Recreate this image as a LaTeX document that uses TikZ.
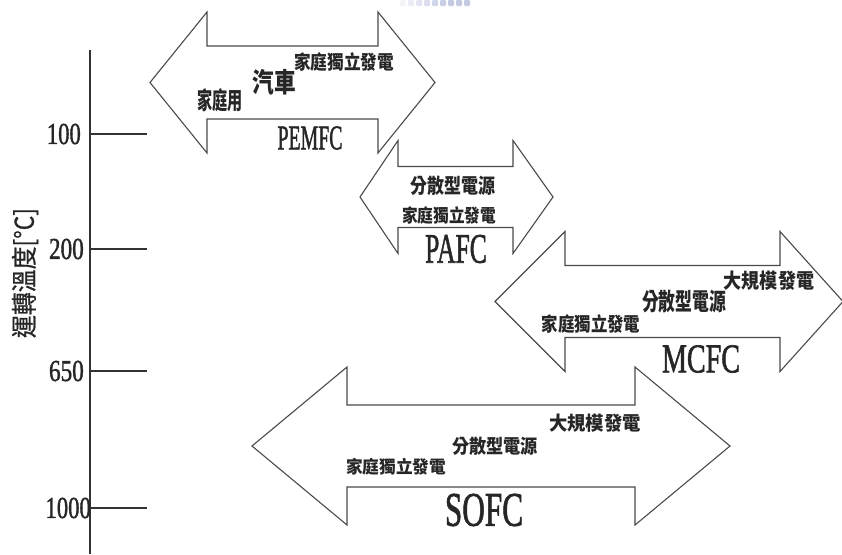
\documentclass[tikz,border=0pt]{standalone}
\usepackage{fontspec}
\usepackage{graphicx}
\setmainfont{Liberation Serif}
\newfontfamily\latf{Liberation Serif}[FakeBold=1.6]
\newfontfamily\cjk{Noto Sans CJK TC}
\newfontfamily\cjkm{Noto Sans CJK TC}[FakeBold=0.8]
\definecolor{arrgray}{HTML}{4A4A4A}
\definecolor{axisgray}{HTML}{333333}
\definecolor{logoblue}{HTML}{8C96C8}
\newcommand\cjt[3]{\fontsize{#1}{#1}\selectfont\scalebox{#2}[1]{#3}}
\newcommand\ltt[3]{\fontsize{#1}{#1}\selectfont\scalebox{#2}[1.05]{#3}}
\newcommand\dblarrow[7]{%
  \draw[arrshape] (#1,#2) -- (#3,#2-#6) -- (#3,#2-#7) -- (#4,#2-#7) -- (#4,#2-#6)
    -- (#5,#2) -- (#4,#2+#6) -- (#4,#2+#7) -- (#3,#2+#7) -- (#3,#2+#6) -- cycle;}
\tikzset{
  arrshape/.style={draw=arrgray, fill=white, line width=1.1pt, line join=miter},
  cjlab/.style={font=\cjk\bfseries, inner sep=0pt, text=black!85},
  latlab/.style={font=\latf, inner sep=0pt, text=black!85},
  tickline/.style={draw=axisgray, line width=1.4pt},
}
\begin{document}
\begin{tikzpicture}[x=1pt,y=-1pt]
\useasboundingbox (0,0) rectangle (842,554);
\fill[white] (0,0) rectangle (842,554);
% faint logo fragment at the top
\foreach \x/\o in {400/0.1,408/0.18,416/0.25,424/0.32,432/0.4,440/0.45,448/0.5,456/0.5,464/0.5}
  \fill[logoblue, opacity=\o, rounded corners=1pt] (\x,0) rectangle ++(6,6);
% axis
\coordinate (atop) at (90,50);
\coordinate (abot) at (90,554);
\draw[tickline] (atop) -- (abot);
\foreach \n/\y in {t1/134,t2/249,t3/371,t4/508}{
  \coordinate (\n a) at (90,\y);
  \coordinate (\n b) at (147,\y);
  \draw[tickline] (\n a) -- (\n b);
}
\node[latlab, anchor=east] (l100) at (81,134) {\ltt{29}{0.78}{100}};
\node[latlab, anchor=east] (l200) at (84,249) {\ltt{29}{0.8}{200}};
\node[latlab, anchor=east] (l650) at (84,371) {\ltt{29}{0.8}{650}};
\node[latlab, anchor=east] (l1000) at (91,508) {\ltt{29}{0.78}{1000}};
\node[inner sep=0pt, font=\cjkm, text=black!85, rotate=90] (ylab) at (25,273) {\cjt{26}{0.88}{運轉溫度[°C]}};
% arrows
\dblarrow{150}{82.5}{207}{378}{435}{70.5}{36.5}
\dblarrow{360}{197}{398}{513}{553}{56.5}{30.5}
\dblarrow{495}{301.5}{565}{780}{843}{70}{36}
\dblarrow{252}{446}{347}{635}{730}{79}{41}
% PEMFC
\node[cjlab] (p1) at (344,62) {\cjt{19.3}{0.86}{家庭獨立發電}};
\node[cjlab] (p2) at (274,82) {\cjt{27}{0.8}{汽車}};
\node[cjlab] (p3) at (220,100) {\cjt{24}{0.63}{家庭用}};
\node[latlab] (pemfc) at (310,138) {\ltt{33}{0.6}{PEMFC}};
% PAFC
\node[cjlab] (a1) at (453,186) {\cjt{20.5}{0.83}{分散型電源}};
\node[cjlab] (a2) at (449,215) {\cjt{18.2}{0.86}{家庭獨立發電}};
\node[latlab] (pafc) at (456,249) {\ltt{40}{0.64}{PAFC}};
% MCFC
\node[cjlab] (m1) at (769,281) {\cjt{20.5}{0.88}{大規模發電}};
\node[cjlab] (m2) at (684,301) {\cjt{24}{0.7}{分散型電源}};
\node[cjlab] (m3) at (591,324) {\cjt{19.3}{0.85}{家庭獨立發電}};
\node[latlab] (mcfc) at (701,359) {\ltt{39}{0.72}{MCFC}};
% SOFC
\node[cjlab] (s1) at (595,423) {\cjt{19.3}{0.95}{大規模發電}};
\node[cjlab] (s2) at (495,446) {\cjt{19.3}{0.89}{分散型電源}};
\node[cjlab] (s3) at (396,467) {\cjt{17.5}{0.95}{家庭獨立發電}};
\node[latlab] (sofc) at (484,510) {\ltt{46}{0.68}{SOFC}};
\end{tikzpicture}
\end{document}
